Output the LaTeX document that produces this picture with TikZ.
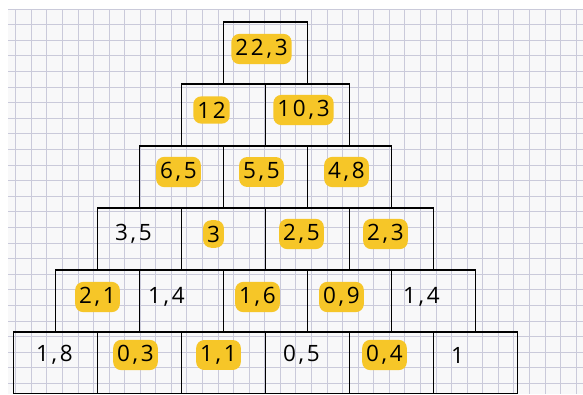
\documentclass[tikz,border=0pt]{standalone}
\usepackage{fontspec}
\setmainfont{Open Sans}[LetterSpace=12]
\definecolor{marker}{RGB}{246,198,40}
\definecolor{gridline}{RGB}{202,202,218}
\definecolor{paper}{RGB}{248,248,249}

% one row of the pyramid: #1 row number, #2 vertical text shift, #3 value/style/xshift list
\newcommand\pyrrow[3]{%
  \foreach \val/\sty/\dx [count=\i] in {#3} {
    \node[box] (b#1-\i) at ({223.5-42*(#1-1)+84*(\i-1)+42}, {53+62*(#1-1)}) {};
    \node[\sty] (t#1-\i) at ([shift={(\dx,#2)}]b#1-\i.center) {\val};
  }}

\begin{document}
\begin{tikzpicture}[x=1pt, y=-1pt, font=\fontsize{22.5}{26}\selectfont,
    box/.style={draw, line width=1.8pt, minimum width=84pt, minimum height=62pt, inner sep=0pt},
    hilite/.style={fill=marker, rounded corners=8pt, inner xsep=4pt, inner ysep=5.5pt},
    plain/.style={inner sep=0pt}]
  \useasboundingbox (0,0) rectangle (583,394);
  \clip (0,0) rectangle (583,393.2);

  % squared paper
  \fill[paper] (8,9) rectangle (583,394);
  \foreach \k in {1,...,37}
    \draw[gridline, line width=0.7pt] ({15.57*\k},9) -- ({15.57*\k},394);
  \foreach \k in {0,...,24}
    \draw[gridline, line width=0.7pt] (8,{9+15.6*\k}) -- (583,{9+15.6*\k});

  % pyramid
  \pyrrow{1}{-4}{{22,3}/hilite/-4}
  \pyrrow{2}{-5}{{12}/hilite/-12, {10,3}/hilite/-4}
  \pyrrow{3}{-5}{{6,5}/hilite/-3, {5,5}/hilite/-4, {4,8}/hilite/-3}
  \pyrrow{4}{-5}{{3,5}/plain/-6, {3}/hilite/-10, {2,5}/hilite/-6, {2,3}/hilite/-6}
  \pyrrow{5}{-4}{{2,1}/hilite/0, {1,4}/plain/-15, {1,6}/hilite/-8, {0,9}/hilite/-8, {1,4}/plain/-12}
  \pyrrow{6}{-8}{{1,8}/plain/-1, {0,3}/hilite/-4, {1,1}/hilite/-5, {0,5}/plain/-6, {0,4}/hilite/-7, {1}/plain/-18}
\end{tikzpicture}
\end{document}
